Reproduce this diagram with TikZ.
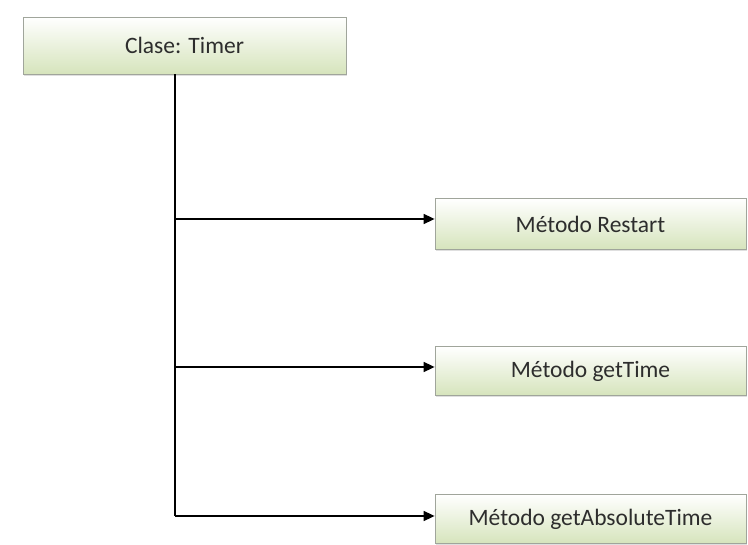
\documentclass[tikz,border=0pt]{standalone}
\usepackage{fontspec}
\setmainfont{Carlito}
\usetikzlibrary{arrows.meta,shadows}
\definecolor{boxgreen}{RGB}{214,228,188}
\definecolor{boxline}{RGB}{160,165,155}
\definecolor{txtgray}{RGB}{45,45,45}
\begin{document}
\begin{tikzpicture}[x=1pt,y=-1pt,
    box/.style={draw=boxline, line width=0.8pt, top color=white, bottom color=boxgreen,
        text=txtgray, font=\fontsize{23.5}{27}\selectfont, inner sep=0pt,
        drop shadow={opacity=0.25, shadow xshift=1pt, shadow yshift=-2pt}},
    link/.style={line width=1.6pt, -{Triangle[length=11pt,width=10pt]}}]
    \useasboundingbox (0,0) rectangle (748,545);

    \node[box, minimum width=323pt, minimum height=57pt] (clase) at (184.5,45.5) {Clase: Timer};
    \node[box, minimum width=311pt, minimum height=51pt] (m1) at (590.5,224) {Método Restart};
    \node[box, minimum width=311pt, minimum height=49pt] (m2) at (590.5,371) {Método getTime};
    \node[box, minimum width=311pt, minimum height=49pt] (m3) at (590.5,519) {Método getAbsoluteTime};

    \coordinate (j1) at (175,219);
    \coordinate (j2) at (175,367);
    \coordinate (j3) at (175,516);

    \draw[line width=1.6pt] (clase.south -| j1) -- (j3);
    \draw[link] (j1) -- (j1 -| m1.west);
    \draw[link] (j2) -- (j2 -| m2.west);
    \draw[link] (j3) -- (j3 -| m3.west);
\end{tikzpicture}
\end{document}
